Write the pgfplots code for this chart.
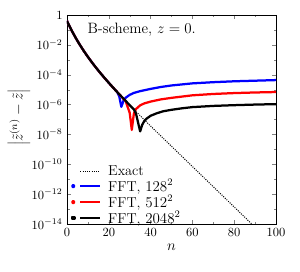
\documentclass[border=0pt]{standalone}
\usepackage{pgfplots}
\pgfplotsset{compat=1.18}
\usetikzlibrary{calc}
\begin{document}
\begin{tikzpicture}
\begin{axis}[name=ax,
  width=167.2pt, height=167.2pt, scale only axis,
  ymode=log, xmin=0, xmax=100, ymin=1e-14, ymax=1,
  xtick={0,20,40,60,80,100}, minor xtick={10,30,50,70,90},
  ytick={1,1e-2,1e-4,1e-6,1e-8,1e-10,1e-12,1e-14},
  yticklabels={$1$,$10^{-2}$,$10^{-4}$,$10^{-6}$,$10^{-8}$,$10^{-10}$,$10^{-12}$,$10^{-14}$},
  minor ytick={1e-1,1e-3,1e-5,1e-7,1e-9,1e-11,1e-13},
  major tick length=3.5pt, minor tick length=2pt,
  xlabel={$n$}, ylabel={$\left|\tilde{z}^{(n)}-\tilde{z}\right|$},
  xlabel style={at={(axis description cs:0.5,-0.109)}, anchor=center, font=\large},
  ylabel style={at={(axis description cs:-0.23,0.51)}, anchor=center, font=\large},
  legend style={at={(axis description cs:0.0,-0.03)}, anchor=south west, draw=none, fill=none, font=\fontsize{11.5}{13}\selectfont, row sep=-2.2pt},
  legend cell align=left,
]
\addplot[black, densely dotted, line width=0.8pt,
  legend image code/.code={\path (0pt,0pt) (25pt,0pt); \draw[black, densely dotted, line width=0.8pt] (5.6pt,0pt) -- (21.6pt,0pt);}]
 coordinates {(0,0.398)(1,0.202)(2,0.1067)(3,5.78e-2)(4,3.228e-2)(5,1.854e-2)(6,1.089e-2)(7,6.53e-3)(8,3.98e-3)(9,2.483e-3)(10,1.567e-3)(12,6.50e-4)(14,2.831e-4)(16,1.279e-4)(18,5.97e-5)(20,2.858e-5)(22,1.396e-5)(24,6.93e-6)(26,3.50e-6)(28,1.786e-6)(30,9.18e-7)(32,4.76e-7)(34,2.489e-7)(36,1.306e-7)(38,6.87e-8)(40,3.64e-8)(100,2.69e-16)};
\addlegendentry{Exact}
\addplot[blue, line width=1.8pt, line join=round,
  legend image code/.code={\path (25pt,0pt); \fill[blue] (0pt,0pt) circle (0.9pt); \draw[blue, line width=1.1pt] (5.6pt,0pt) -- (21.6pt,0pt);}]
 coordinates {(0,0.398)(1,0.202)(2,0.1067)(3,5.78e-2)(4,3.228e-2)(5,1.854e-2)(6,1.089e-2)(7,6.53e-3)(8,3.98e-3)(9,2.483e-3)(10,1.567e-3)(12,6.50e-4)(14,2.831e-4)(16,1.279e-4)(18,5.97e-5)(20,2.858e-5)(22,1.396e-5)(24,6.93e-6)(25,3.55e-6)(26,7.08e-7)(27,1.778e-6)(28,2.82e-6)(30,4.47e-6)(32,6.03e-6)(35,7.94e-6)(40,1.122e-5)(45,1.514e-5)(50,1.905e-5)(60,2.63e-5)(70,3.16e-5)(80,3.63e-5)(90,3.98e-5)(100,4.37e-5)};
\addlegendentry{FFT, $128^2$}
\addplot[red, line width=1.8pt, line join=round,
  legend image code/.code={\path (25pt,0pt); \fill[red] (0pt,0pt) circle (0.9pt); \draw[red, line width=1.1pt] (5.6pt,0pt) -- (21.6pt,0pt);}]
 coordinates {(0,0.398)(1,0.202)(2,0.1067)(3,5.78e-2)(4,3.228e-2)(5,1.854e-2)(6,1.089e-2)(7,6.53e-3)(8,3.98e-3)(9,2.483e-3)(10,1.567e-3)(12,6.50e-4)(14,2.831e-4)(16,1.279e-4)(18,5.97e-5)(20,2.858e-5)(22,1.396e-5)(24,6.93e-6)(26,3.50e-6)(28,1.786e-6)(29,7.08e-7)(30,2.82e-7)(31,2.0e-8)(32,2.51e-7)(33,5.01e-7)(35,8.91e-7)(37,1.202e-6)(40,1.585e-6)(45,2.24e-6)(50,2.82e-6)(60,4.17e-6)(70,5.13e-6)(80,5.89e-6)(90,6.46e-6)(100,6.92e-6)};
\addlegendentry{FFT, $512^2$}
\addplot[black, line width=1.8pt, line join=round,
  legend image code/.code={\path (25pt,0pt); \fill[black] (-0.95pt,-0.95pt) rectangle (0.95pt,0.95pt); \draw[black, line width=1.1pt] (5.6pt,0pt) -- (21.6pt,0pt);}]
 coordinates {(0,0.398)(1,0.202)(2,0.1067)(3,5.78e-2)(4,3.228e-2)(5,1.854e-2)(6,1.089e-2)(7,6.53e-3)(8,3.98e-3)(9,2.483e-3)(10,1.567e-3)(12,6.50e-4)(14,2.831e-4)(16,1.279e-4)(18,5.97e-5)(20,2.858e-5)(22,1.396e-5)(24,6.93e-6)(26,3.50e-6)(28,1.786e-6)(30,9.18e-7)(32,4.76e-7)(33,2.51e-7)(34,6.31e-8)(35,1.6e-8)(36,4.47e-8)(37,7.94e-8)(38,1.122e-7)(40,1.778e-7)(43,2.63e-7)(46,3.55e-7)(50,4.47e-7)(55,5.62e-7)(60,6.76e-7)(70,8.13e-7)(80,9.12e-7)(90,1.0e-6)(100,1.072e-6)};
\addlegendentry{FFT, $2048^2$}
\node[anchor=west, font=\large] at (axis description cs:0.077,0.928) {B-scheme, $z=0$.};
\end{axis}
\pgfresetboundingbox
\path (ax.south west) ++(-53.6pt,-37.6pt) rectangle ($(ax.north east)+(19.2pt,12pt)$);
\end{tikzpicture}
\end{document}
